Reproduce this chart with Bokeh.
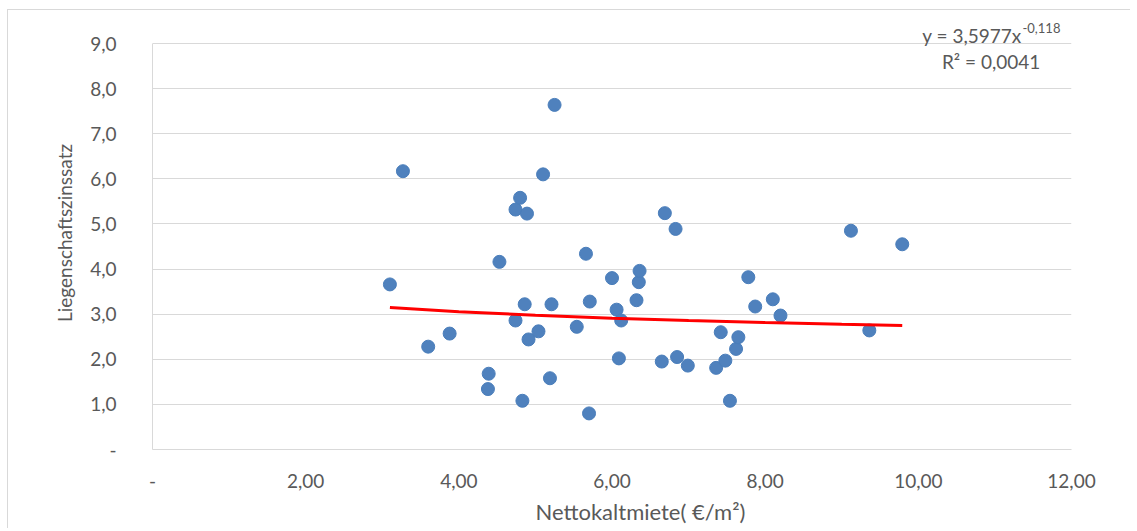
from bokeh.plotting import figure
from bokeh.models import FixedTicker, Label, ColumnDataSource, Range1d, Title
from bokeh.embed import file_html
from bokeh.resources import INLINE

# Nettokaltmiete (€/m²) vs. Liegenschaftszinssatz
miete = [3.10, 3.27, 3.60, 3.88, 4.39, 4.38, 4.53, 4.74, 4.74, 4.80,
         4.83, 4.86, 4.89, 4.91, 5.04, 5.10, 5.19, 5.21, 5.25, 5.54,
         5.66, 5.70, 5.71, 6.00, 6.06, 6.09, 6.12, 6.32, 6.35, 6.36,
         6.65, 6.69, 6.83, 6.85, 6.99, 7.36, 7.42, 7.48, 7.54, 7.62,
         7.65, 7.78, 7.87, 8.10, 8.20, 9.12, 9.36, 9.79]
zins = [3.66, 6.17, 2.28, 2.57, 1.68, 1.34, 4.16, 2.86, 5.32, 5.58,
        1.08, 3.22, 5.23, 2.44, 2.62, 6.10, 1.58, 3.22, 7.64, 2.72,
        4.34, 0.80, 3.28, 3.80, 3.10, 2.02, 2.86, 3.31, 3.71, 3.96,
        1.95, 5.24, 4.89, 2.05, 1.86, 1.81, 2.60, 1.97, 1.08, 2.23,
        2.49, 3.82, 3.17, 3.33, 2.97, 4.85, 2.64, 4.55]

# Power trendline
trend_x = [3.10, 4.0, 5.0, 6.0, 7.0, 8.0, 9.0, 9.79]
trend_y = [3.149, 3.055, 2.975, 2.912, 2.859, 2.815, 2.776, 2.749]

x_ticks = [0, 2, 4, 6, 8, 10, 12]
x_tick_labels = ["-", "2,00", "4,00", "6,00", "8,00", "10,00", "12,00"]
y_ticks = [0, 1, 2, 3, 4, 5, 6, 7, 8, 9]
y_tick_labels = ["-", "1,0", "2,0", "3,0", "4,0", "5,0", "6,0", "7,0", "8,0", "9,0"]

FONT = "Lato"
TXT = "#595959"
GRID = "#d9d9d9"

p = figure(width=1123, height=519, output_backend="svg", toolbar_location=None,
           x_range=Range1d(0, 12), y_range=Range1d(0, 9.6),
           min_border_left=144, min_border_right=60, min_border_top=6,
           min_border_bottom=80, margin=(9, 0, 0, 7),
           styles={"border-left": "1px solid #d9d9d9", "border-top": "1px solid #d9d9d9"})
p.background_fill_color = "white"
p.border_fill_color = "white"
p.outline_line_color = None

p.xgrid.grid_line_color = None
p.ygrid.grid_line_color = GRID
p.ygrid.grid_line_width = 1

p.xaxis.ticker = FixedTicker(ticks=x_ticks)
p.yaxis.ticker = FixedTicker(ticks=y_ticks)
p.xaxis.major_label_overrides = {t: l for t, l in zip(x_ticks, x_tick_labels)}
p.yaxis.major_label_overrides = {t: l for t, l in zip(y_ticks, y_tick_labels)}
p.yaxis.bounds = (0, 9)

for ax in (p.xaxis[0], p.yaxis[0]):
    ax.axis_line_color = GRID
    ax.major_tick_line_color = None
    ax.minor_tick_line_color = None
    ax.major_label_text_font = FONT
    ax.major_label_text_font_size = "19px"
    ax.major_label_text_color = TXT
    ax.axis_label_text_font = FONT
    ax.axis_label_text_font_style = "normal"
    ax.axis_label_text_color = TXT

p.yaxis.axis_label = "Liegenschaftszinssatz"
p.yaxis.axis_label_text_font_size = "19px"
p.xaxis.major_label_standoff = 18
p.yaxis.major_label_standoff = 30
p.yaxis.axis_label_standoff = 11

xtitle = Title(text="Nettokaltmiete( €/m²)", align="left", offset=383, standoff=10,
               text_font=FONT, text_font_size="22px", text_font_style="normal",
               text_color=TXT)
p.add_layout(xtitle, "below")

src = ColumnDataSource(dict(x=miete, y=zins))
p.scatter("x", "y", source=src, size=13, fill_color="#4f81bd", line_color="#4a7ebb")
p.line(trend_x, trend_y, line_color="#ff0000", line_width=3)

eq = Label(x=11.35, y=9.18, text="y = 3,5977x", text_align="right", text_baseline="middle",
           text_font=FONT, text_font_size="19px", text_color=TXT)
sup = Label(x=11.36, y=9.34, text="-0,118", text_align="left", text_baseline="middle",
            text_font=FONT, text_font_size="13px", text_color=TXT)
r2 = Label(x=10.95, y=8.60, text="R² = 0,0041", text_align="center", text_baseline="middle",
           text_font=FONT, text_font_size="19px", text_color=TXT)
for lab in (eq, sup, r2):
    p.add_layout(lab)

open("out.html", "w").write(file_html(p, INLINE))
